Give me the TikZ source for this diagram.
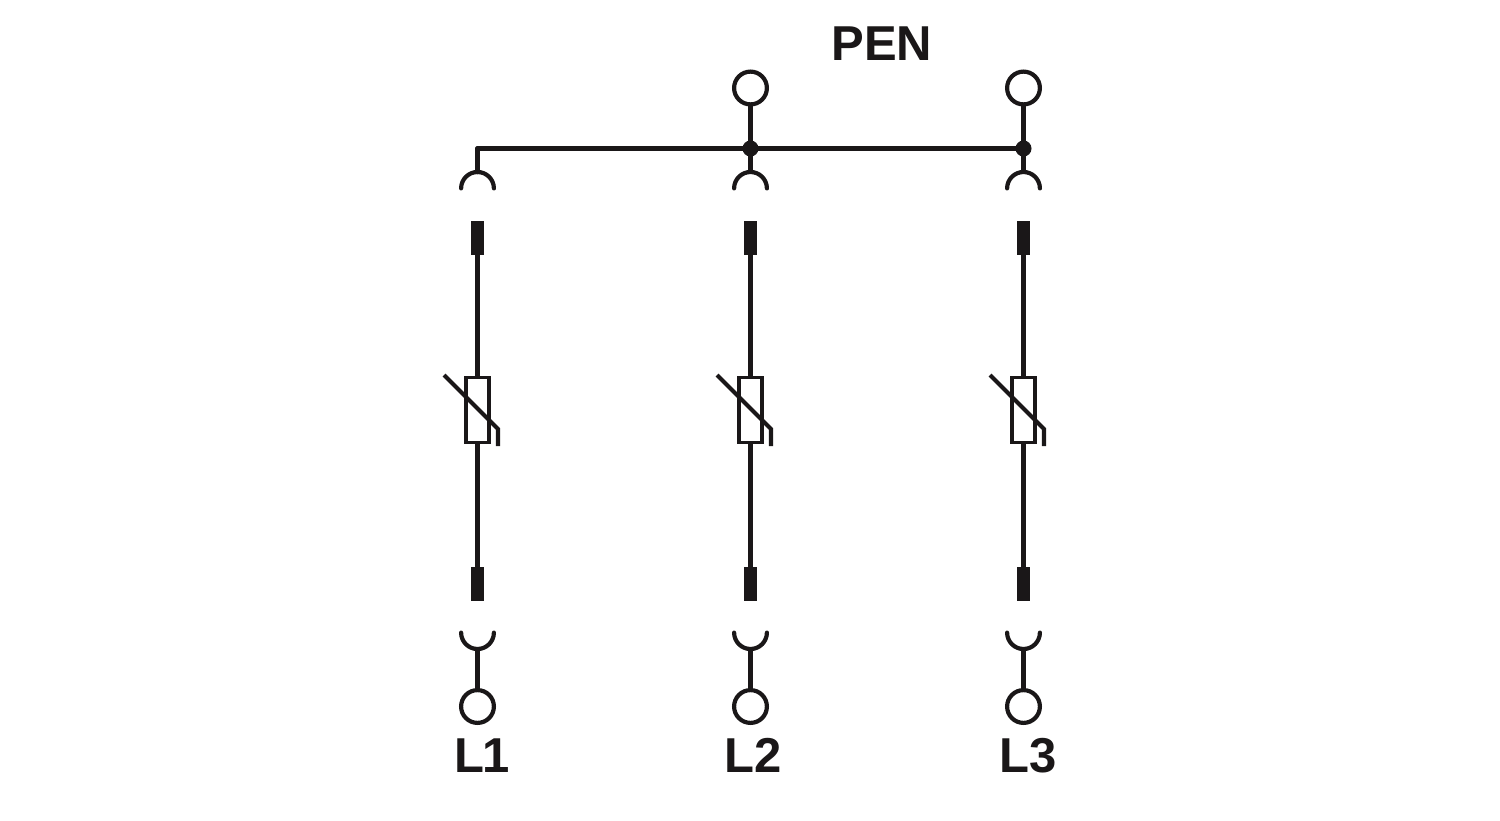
\documentclass[tikz,border=0pt]{standalone}
\usepackage{fontspec}
\setmainfont{Liberation Sans}
\usepackage{tikz}
\usetikzlibrary{positioning,shapes}
\definecolor{ink}{HTML}{1A1718}

\begin{document}
\begin{tikzpicture}[%
        x=0.5pt,
        y=-0.5pt,
        wire/.style={%
          draw=ink,
          line width=2.3pt
        },
        contact/.style={%
          draw=ink,
          line width=2.1pt,
          line cap=round
        },
        terminal/.style={%
          circle,
          draw=ink,
          fill=white,
          line width=2.1pt,
          inner sep=0pt,
          outer sep=0pt,
          minimum size=16.4pt
        },
        pinblock/.style={%
          rectangle,
          fill=ink,
          inner sep=0pt,
          outer sep=0pt,
          minimum width=6.3pt,
          minimum height=17pt
        },
        varbody/.style={%
          rectangle,
          draw=ink,
          line width=1.9pt,
          inner sep=0pt,
          outer sep=0pt,
          minimum width=11.5pt,
          minimum height=32.5pt
        },
        junction/.style={%
          circle,
          fill=ink,
          inner sep=0pt,
          outer sep=0pt,
          minimum size=8pt
        },
        lab/.style={%
          text=ink,
          anchor=base,
          font=\fontsize{24.5}{24.5}\selectfont\bfseries
        }
      ]
      \useasboundingbox (0,0) rectangle (1500,820);

      \node[lab] (pen) at (882,60) {PEN};
      \node[terminal] (tp2) at (750.5,88) {};
      \node[terminal] (tp3) at (1023.5,88) {};
      \coordinate (corner) at (477.5,148.5);
      \node[junction] (j2) at (750.5,148.5) {};
      \node[junction] (j3) at (1023.5,148.5) {};
      \coordinate (captop1) at (477.5,172);
      \coordinate (captop2) at (750.5,172);
      \coordinate (captop3) at (1023.5,172);

      \node[pinblock] (pa1) at (477.5,238) {};
      \node[pinblock] (pa2) at (750.5,238) {};
      \node[pinblock] (pa3) at (1023.5,238) {};
      \node[varbody] (var1) at (477.5,410) {};
      \node[varbody] (var2) at (750.5,410) {};
      \node[varbody] (var3) at (1023.5,410) {};
      \node[pinblock] (pb1) at (477.5,583.5) {};
      \node[pinblock] (pb2) at (750.5,583.5) {};
      \node[pinblock] (pb3) at (1023.5,583.5) {};

      \coordinate (capbot1) at (477.5,649);
      \coordinate (capbot2) at (750.5,649);
      \coordinate (capbot3) at (1023.5,649);
      \node[terminal] (tb1) at (477.5,706.5) {};
      \node[terminal] (tb2) at (750.5,706.5) {};
      \node[terminal] (tb3) at (1023.5,706.5) {};
      \node[lab] (l1) at (482,772) {L\kern-0.8pt 1};
      \node[lab] (l2) at (753,772) {L2};
      \node[lab] (l3) at (1028,772) {L3};

      \path[wire] (tp2) edge [] (j2.center)
      (tp3) edge [] (j3.center)
      (j2.center) edge [] (captop2)
      (j3.center) edge [] (captop3)
      (corner) edge [line cap=round] (captop1)
      (corner) edge [line cap=round] (j2.center)
      (j2.center) edge [] (j3.center)
      (pa1) edge [] (var1)
      (pa2) edge [] (var2)
      (pa3) edge [] (var3)
      (var1) edge [] (pb1)
      (var2) edge [] (pb2)
      (var3) edge [] (pb3)
      (capbot1) edge [] (tb1)
      (capbot2) edge [] (tb2)
      (capbot3) edge [] (tb3);

      % sockets
      \draw[contact] ([shift={(-8.2pt,-8.2pt)}]captop1) arc[start angle=180,end angle=0,radius=8.2pt];
      \draw[contact] ([shift={(-8.2pt,-8.2pt)}]captop2) arc[start angle=180,end angle=0,radius=8.2pt];
      \draw[contact] ([shift={(-8.2pt,-8.2pt)}]captop3) arc[start angle=180,end angle=0,radius=8.2pt];
      \draw[contact] ([shift={(-8.2pt,8.2pt)}]capbot1) arc[start angle=180,end angle=360,radius=8.2pt];
      \draw[contact] ([shift={(-8.2pt,8.2pt)}]capbot2) arc[start angle=180,end angle=360,radius=8.2pt];
      \draw[contact] ([shift={(-8.2pt,8.2pt)}]capbot3) arc[start angle=180,end angle=360,radius=8.2pt];

      % varistor slashes
      \draw[contact,line cap=butt] (444,375) -- (498,429) -- (498,446);
      \draw[contact,line cap=butt] (717,375) -- (771,429) -- (771,446);
      \draw[contact,line cap=butt] (990,375) -- (1044,429) -- (1044,446);
  \end{tikzpicture}
\end{document}
